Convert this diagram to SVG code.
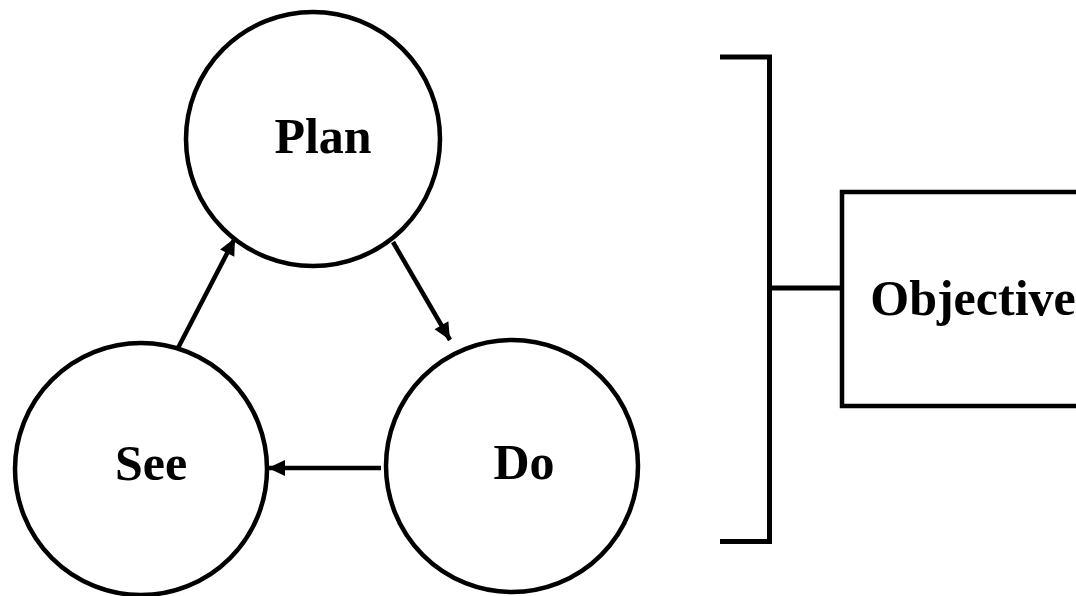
<svg xmlns="http://www.w3.org/2000/svg" width="1076" height="596" viewBox="0 0 1076 596">
  <style>
    .node { fill: #ffffff; stroke: #000000; stroke-width: 4.5; }
    .label { font-family: "Liberation Serif", "Times New Roman", serif; font-weight: bold; font-size: 50px; fill: #000000; text-anchor: middle; }
    .edge { stroke: #000000; stroke-width: 4.5; fill: none; }
    .bracket { stroke: #000000; stroke-width: 5; fill: none; }
  </style>
  <defs>
    <marker id="arrow" markerUnits="userSpaceOnUse" markerWidth="20" markerHeight="20" refX="18" refY="10" orient="auto">
      <path d="M1,2 L18,10 L1,18 Z" fill="#000000"/>
    </marker>
  </defs>
  <rect width="1076" height="596" fill="#ffffff"/>

  <!-- cycle nodes -->
  <g id="plan">
    <circle class="node" cx="313" cy="139" r="127"/>
    <text class="label" x="323" y="153">Plan</text>
  </g>
  <g id="do">
    <circle class="node" cx="512" cy="466" r="126"/>
    <text class="label" x="524" y="479">Do</text>
  </g>
  <g id="see">
    <circle class="node" cx="141" cy="469" r="126"/>
    <text class="label" x="151" y="480">See</text>
  </g>

  <!-- objective box -->
  <g id="objective">
    <rect class="node" x="842" y="192" width="260" height="214"/>
    <text class="label" x="973" y="315">Objective</text>
  </g>

  <!-- bracket grouping the cycle -->
  <g id="bracket">
    <path class="bracket" d="M720,57 H769.5 V541.5 H720"/>
    <line class="bracket" x1="769.5" y1="288" x2="840" y2="288"/>
  </g>

  <!-- connectors -->
  <g id="connectors">
    <line class="edge" x1="178" y1="348" x2="235" y2="238" marker-end="url(#arrow)"/>
    <line class="edge" x1="393" y1="242" x2="450" y2="340" marker-end="url(#arrow)"/>
    <line class="edge" x1="381" y1="468" x2="268" y2="468" marker-end="url(#arrow)"/>
  </g>
</svg>
